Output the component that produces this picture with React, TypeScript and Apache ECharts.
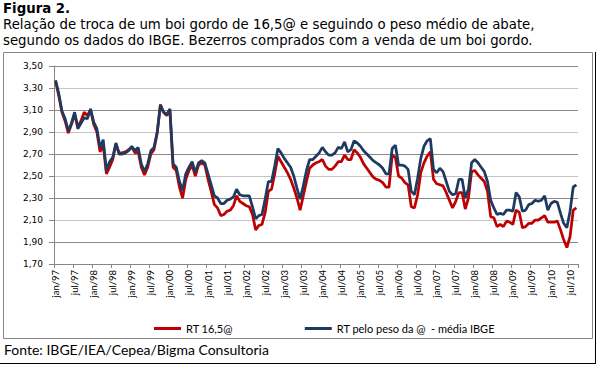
import React, { useEffect, useRef } from "react";
import * as echarts from "echarts";

// Month labels (Portuguese) and years covered: jan/97 .. set/10 (165 months)
const monthNames = ["jan", "fev", "mar", "abr", "mai", "jun", "jul", "ago", "set", "out", "nov", "dez"];
const yearNames = ["97", "98", "99", "00", "01", "02", "03", "04", "05", "06", "07", "08", "09", "10"];
const monthCount = 165;

// RT pelo peso da @ - média IBGE (blue), one row per year
const ibge1997 = [3.37, 3.25, 3.09, 3.02, 2.91, 2.98, 3.08, 2.93, 2.98, 3.03, 3.02, 3.11];
const ibge1998 = [2.99, 2.93, 2.76, 2.83, 2.55, 2.63, 2.67, 2.8, 2.7, 2.7, 2.71, 2.73];
const ibge1999 = [2.77, 2.73, 2.76, 2.61, 2.54, 2.61, 2.73, 2.76, 2.9, 3.14, 3.08, 3.06];
const ibge2000 = [3.11, 2.61, 2.58, 2.45, 2.37, 2.52, 2.58, 2.63, 2.53, 2.62, 2.64, 2.62];
const ibge2001 = [2.52, 2.42, 2.32, 2.3, 2.25, 2.25, 2.28, 2.29, 2.31, 2.38, 2.33, 2.32];
const ibge2002 = [2.32, 2.32, 2.22, 2.11, 2.14, 2.15, 2.29, 2.45, 2.45, 2.59, 2.75, 2.71];
const ibge2003 = [2.66, 2.62, 2.58, 2.5, 2.39, 2.29, 2.41, 2.55, 2.65, 2.65, 2.68, 2.71];
const ibge2004 = [2.76, 2.72, 2.69, 2.69, 2.71, 2.76, 2.75, 2.81, 2.72, 2.74, 2.82, 2.8];
const ibge2005 = [2.77, 2.73, 2.7, 2.67, 2.64, 2.62, 2.6, 2.57, 2.52, 2.52, 2.75, 2.78];
const ibge2006 = [2.6, 2.6, 2.59, 2.56, 2.36, 2.33, 2.48, 2.66, 2.77, 2.82, 2.84, 2.56];
const ibge2007 = [2.53, 2.57, 2.54, 2.45, 2.36, 2.33, 2.34, 2.47, 2.47, 2.3, 2.38, 2.62];
const ibge2008 = [2.65, 2.62, 2.58, 2.54, 2.45, 2.28, 2.21, 2.15, 2.16, 2.15, 2.19, 2.19];
const ibge2009 = [2.18, 2.35, 2.31, 2.18, 2.19, 2.24, 2.25, 2.28, 2.27, 2.28, 2.32, 2.19];
const ibge2010 = [2.25, 2.27, 2.26, 2.16, 2.07, 2.03, 2.18, 2.4, 2.42];

// RT 16,5@ (red), one row per year
const rt1997 = [3.36, 3.23, 3.08, 3.0, 2.89, 2.97, 3.06, 2.95, 3.0, 3.08, 3.05, 3.1];
const rt1998 = [2.97, 2.9, 2.72, 2.78, 2.52, 2.58, 2.65, 2.79, 2.71, 2.71, 2.72, 2.74];
const rt1999 = [2.76, 2.71, 2.72, 2.58, 2.51, 2.58, 2.7, 2.74, 2.89, 3.15, 3.08, 3.05];
const rt2000 = [3.09, 2.58, 2.55, 2.4, 2.3, 2.47, 2.55, 2.6, 2.5, 2.6, 2.62, 2.6];
const rt2001 = [2.47, 2.36, 2.24, 2.21, 2.14, 2.15, 2.18, 2.19, 2.23, 2.32, 2.27, 2.25];
const rt2002 = [2.23, 2.22, 2.15, 2.01, 2.05, 2.06, 2.17, 2.36, 2.38, 2.52, 2.68, 2.63];
const rt2003 = [2.58, 2.53, 2.47, 2.39, 2.3, 2.19, 2.32, 2.45, 2.57, 2.6, 2.62, 2.63];
const rt2004 = [2.65, 2.59, 2.56, 2.56, 2.59, 2.63, 2.63, 2.69, 2.65, 2.65, 2.74, 2.71];
const rt2005 = [2.67, 2.61, 2.57, 2.53, 2.49, 2.47, 2.46, 2.44, 2.4, 2.4, 2.69, 2.67];
const rt2006 = [2.5, 2.48, 2.44, 2.42, 2.22, 2.21, 2.33, 2.53, 2.62, 2.68, 2.72, 2.47];
const rt2007 = [2.43, 2.42, 2.41, 2.35, 2.28, 2.21, 2.27, 2.35, 2.35, 2.2, 2.3, 2.54];
const rt2008 = [2.55, 2.51, 2.48, 2.45, 2.36, 2.13, 2.12, 2.04, 2.06, 2.04, 2.09, 2.08];
const rt2009 = [2.06, 2.19, 2.17, 2.03, 2.04, 2.07, 2.07, 2.1, 2.1, 2.12, 2.14, 2.08];
const rt2010 = [2.08, 2.08, 2.09, 2.01, 1.92, 1.85, 1.95, 2.19, 2.21];

const ibgeSeries = [
  ...ibge1997, ...ibge1998, ...ibge1999, ...ibge2000, ...ibge2001, ...ibge2002, ...ibge2003,
  ...ibge2004, ...ibge2005, ...ibge2006, ...ibge2007, ...ibge2008, ...ibge2009, ...ibge2010,
];
const rtSeries = [
  ...rt1997, ...rt1998, ...rt1999, ...rt2000, ...rt2001, ...rt2002, ...rt2003,
  ...rt2004, ...rt2005, ...rt2006, ...rt2007, ...rt2008, ...rt2009, ...rt2010,
];

const categories: string[] = [];
yearNames.forEach((y) => monthNames.forEach((m) => categories.push(`${m}/${y}`)));
categories.length = monthCount;

const seriesNames = ["RT 16,5@", "RT pelo peso da @  - média IBGE"];
const titleText = "Figura 2.";
const subtitleLine1 = "Relação de troca de um boi gordo de 16,5@ e seguindo o peso médio de abate,";
const subtitleLine2 = "segundo os dados do IBGE. Bezerros comprados com a venda de um boi gordo.";
const sourceText = "Fonte: IBGE/IEA/Cepea/Bigma Consultoria";

export default function App() {
  const ref = useRef<HTMLDivElement>(null);
  useEffect(() => {
    if (!ref.current) return;
    const chart = echarts.init(ref.current, null, { renderer: "svg" });
    chart.setOption({
      animation: false,
      backgroundColor: "#ffffff",
      grid: { left: 54, right: 19, top: 66, bottom: 101, containLabel: false },
      legend: {
        data: seriesNames,
        left: 149,
        top: 318,
        icon: "rect",
        itemWidth: 27,
        itemHeight: 3,
        itemGap: 72,
        textStyle: { fontFamily: "Lato", fontSize: 11, color: "#000" },
      },
      xAxis: {
        type: "category",
        data: categories,
        boundaryGap: true,
        axisLine: { lineStyle: { color: "#868686", width: 1 } },
        axisTick: { show: true, interval: 5, length: 4, lineStyle: { color: "#868686" } },
        axisLabel: {
          interval: 5,
          rotate: 90,
          margin: 6,
          fontFamily: "Lato",
          fontSize: 9.5,
          color: "#000",
        },
        splitLine: { show: false },
      },
      yAxis: {
        type: "value",
        min: 1.7,
        max: 3.5,
        interval: 0.2,
        axisLine: { show: true, lineStyle: { color: "#868686", width: 1 } },
        axisTick: { show: true, length: 5, lineStyle: { color: "#868686" } },
        axisLabel: {
          margin: 11,
          fontFamily: "DejaVu Sans",
          fontSize: 9,
          color: "#000",
          formatter: (v: number) => v.toFixed(2).replace(".", ","),
        },
        splitLine: { show: true, lineStyle: { color: ["#c4c4c4", "#8a8a8a"], width: 1 } },
      },
      series: [
        {
          name: seriesNames[0],
          type: "line",
          data: rtSeries,
          showSymbol: false,
          symbol: "none",
          lineStyle: { color: "#C00000", width: 2.75 },
          itemStyle: { color: "#C00000" },
        },
        {
          name: seriesNames[1],
          type: "line",
          data: ibgeSeries,
          showSymbol: false,
          symbol: "none",
          lineStyle: { color: "#1F3A60", width: 2.75 },
          itemStyle: { color: "#1F3A60" },
        },
      ],
      graphic: [
        {
          type: "rect",
          shape: { x: 3.5, y: 52.5, width: 589, height: 286 },
          style: { fill: "none", stroke: "#868686", lineWidth: 1 },
          silent: true,
        },
        {
          type: "line",
          shape: { x1: 595.5, y1: 52, x2: 595.5, y2: 364 },
          style: { stroke: "#000", lineWidth: 1 },
          silent: true,
        },
        {
          type: "line",
          shape: { x1: 0, y1: 363.5, x2: 596, y2: 363.5 },
          style: { stroke: "#000", lineWidth: 1 },
          silent: true,
        },
        {
          type: "text",
          x: 3,
          y: 2,
          style: { text: titleText, font: 'bold 13.3px "DejaVu Sans"', fill: "#000", textVerticalAlign: "top" },
        },
        {
          type: "text",
          x: 3,
          y: 18,
          style: { text: subtitleLine1, font: '13.3px "DejaVu Sans"', fill: "#000", textVerticalAlign: "top" },
        },
        {
          type: "text",
          x: 3,
          y: 34,
          style: { text: subtitleLine2, font: '13.3px "DejaVu Sans"', fill: "#000", textVerticalAlign: "top" },
        },
        {
          type: "text",
          x: 4,
          y: 342,
          style: { text: sourceText, font: '14px Lato', fill: "#000", textVerticalAlign: "top" },
        },
      ],
    });
    return () => chart.dispose();
  }, []);
  return (
    <div
      ref={ref}
      style={{ position: "absolute", left: 0, top: 0, width: 597, height: 365, background: "#fff" }}
    />
  );
}
